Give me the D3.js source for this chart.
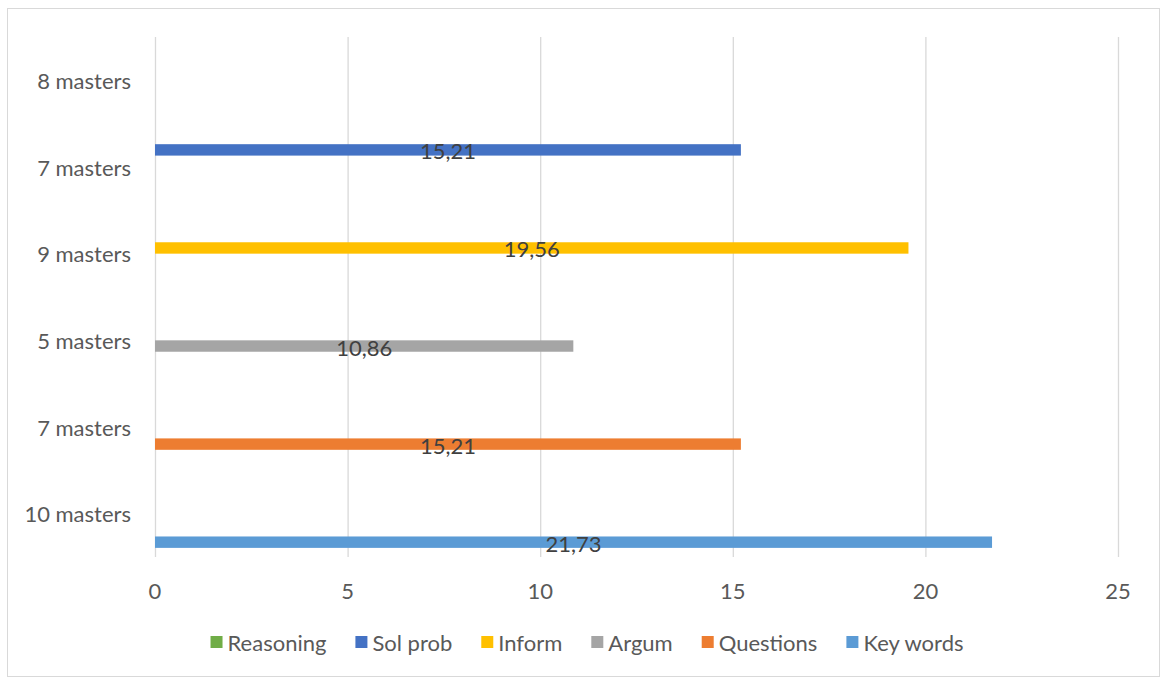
<!DOCTYPE html>
<html>
<head>
<meta charset="utf-8">
<script src="https://cdn.jsdelivr.net/npm/d3@7"></script>
<style>
  body { margin: 0; background: #fff; }
  text { font-family: Lato, "Open Sans", sans-serif; }
</style>
</head>
<body>
<div class="chart"></div>
<script>
var width = 1166,
    height = 677;

// categories top to bottom
var categories = ["8 masters", "7 masters", "9 masters", "5 masters", "7 masters", "10 masters"];
var series = ["Reasoning", "Sol prob", "Inform", "Argum", "Questions", "Key words"];
var colors = ["#70AD47", "#4472C4", "#FFC000", "#A5A5A5", "#ED7D31", "#5B9BD5"];
// each series only has a value in its own category (same index)
var values = [null, 15.21, 19.56, 10.86, 15.21, 21.73];
var xTicks = [0, 5, 10, 15, 20, 25];

var svg = d3.select(".chart").append("svg")
    .attr("width", width)
    .attr("height", height);

// chart border
svg.append("rect")
    .attr("x", 7.5)
    .attr("y", 8.5)
    .attr("width", 1152)
    .attr("height", 668)
    .style("fill", "white")
    .style("stroke", "#d9d9d9");

var x = d3.scaleLinear().domain([0, 25]).range([155, 1118]);

var y0 = d3.scaleBand()
    .domain(d3.range(categories.length))
    .range([37, 557]);

// gap width 160% -> 0.8 step padding each side
var y1 = d3.scaleBand()
    .domain(series)
    .range([0, y0.bandwidth()])
    .paddingInner(0)
    .paddingOuter(0.8);

// gridlines
svg.append("g").selectAll("line")
    .data(xTicks)
    .join("line")
    .attr("x1", d => x(d) + 0.5)
    .attr("x2", d => x(d) + 0.5)
    .attr("y1", 37)
    .attr("y2", 557)
    .style("stroke", "#d9d9d9")
    .style("stroke-width", 1.3);

// x tick labels
svg.append("g").selectAll("text")
    .data(xTicks)
    .join("text")
    .attr("x", d => x(d))
    .attr("y", 590)
    .attr("text-anchor", "middle")
    .attr("dominant-baseline", "central")
    .style("font-size", "22px")
    .style("fill", "#595959")
    .text(d => d);

// category labels
svg.append("g").selectAll("text")
    .data(categories)
    .join("text")
    .attr("x", 131)
    .attr("y", (d, i) => y0(i) + y0.bandwidth() / 2)
    .attr("text-anchor", "end")
    .attr("dominant-baseline", "central")
    .style("font-size", "22px")
    .style("fill", "#595959")
    .text(d => d);

var bars = series.map((s, i) => ({ name: s, color: colors[i], cat: i, value: values[i] }))
    .filter(d => d.value != null);

svg.append("g").selectAll("rect")
    .data(bars)
    .join("rect")
    .attr("x", x(0))
    .attr("y", d => y0(d.cat) + y1(d.name))
    .attr("width", d => x(d.value) - x(0))
    .attr("height", y1.bandwidth())
    .style("fill", d => d.color);

// data labels
svg.append("g").selectAll("text")
    .data(bars)
    .join("text")
    .attr("x", d => (x(0) + x(d.value)) / 2)
    .attr("y", d => y0(d.cat) + y1(d.name) + y1.bandwidth() / 2 + 1)
    .attr("text-anchor", "middle")
    .attr("dominant-baseline", "central")
    .style("font-size", "22px")
    .style("fill", "#404040")
    .text(d => d3.format(".2f")(d.value).replace(".", ","));

// legend
var legend = svg.append("g");
var items = legend.selectAll("g")
    .data(series)
    .join("g");

items.append("rect")
    .attr("width", 12)
    .attr("height", 12)
    .attr("y", -6)
    .style("fill", (d, i) => colors[i]);

items.append("text")
    .attr("x", 17)
    .attr("dominant-baseline", "central")
    .style("font-size", "22px")
    .style("fill", "#595959")
    .text(d => d);

var pos = 0;
items.each(function () {
    var w = this.getBBox().width;
    d3.select(this).attr("transform", "translate(" + pos + ",0)");
    pos += w + 29;
});
var total = pos - 29;
legend.attr("transform", "translate(" + (587 - total / 2) + ",642)");
</script>
</body>
</html>
